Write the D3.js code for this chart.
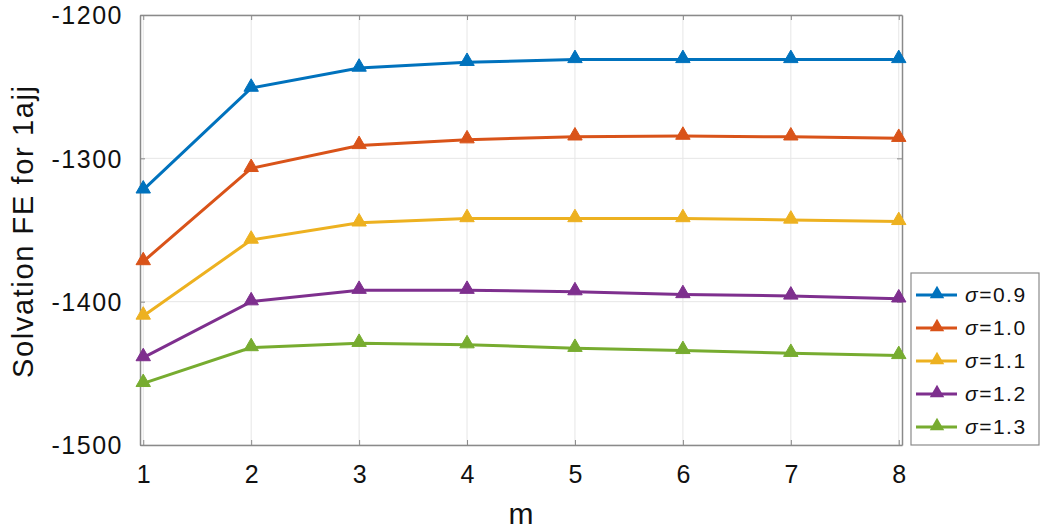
<!DOCTYPE html>
<html><head><meta charset="utf-8">
<script src="https://cdn.jsdelivr.net/npm/d3@7"></script>
<style>body{margin:0;background:#fff;} text{font-family:"Liberation Sans",Arial,Helvetica,sans-serif;}</style>
</head><body><svg id="c" width="1050" height="532"></svg>
<script>
const mValues = [1,2,3,4,5,6,7,8];
const seriesNames = ["σ=0.9","σ=1.0","σ=1.1","σ=1.2","σ=1.3"];
const sigma09 = [-1322,-1251,-1237,-1233,-1231,-1231,-1231,-1231];
const sigma10 = [-1372,-1307,-1291,-1287,-1285,-1284.5,-1285,-1286];
const sigma11 = [-1410,-1357,-1345,-1342,-1342,-1342,-1343,-1344];
const sigma12 = [-1439,-1400,-1392,-1392,-1393,-1395,-1396,-1398];
const sigma13 = [-1457,-1432,-1429,-1430,-1432.5,-1434,-1436,-1437.5];
const yTicks = [-1500,-1400,-1300,-1200];
const xTicks = [1,2,3,4,5,6,7,8];
const colors = ["#0072BD","#D95319","#EDB120","#7E2F8E","#77AC30"];
const allSeries = [sigma09,sigma10,sigma11,sigma12,sigma13];

const svg = d3.select("#c");
const L=140, R=902, T=15, B=445;
const x = d3.scaleLinear().domain([0.97,8.03]).range([L,R]);
const y = d3.scaleLinear().domain([-1500,-1200]).range([B,T]);

// grid
svg.append("g").selectAll("line").data(xTicks).join("line")
  .attr("x1",d=>x(d)).attr("x2",d=>x(d)).attr("y1",T).attr("y2",B)
  .attr("stroke","#e6e6e6").attr("stroke-width",1);
svg.append("g").selectAll("line").data(yTicks).join("line")
  .attr("x1",L).attr("x2",R).attr("y1",d=>y(d)).attr("y2",d=>y(d))
  .attr("stroke","#e6e6e6").attr("stroke-width",1);

// axes
const axCol="#8a8a8a";
const fmt = d=>String(d).replace("\u2212","-");
const bx = svg.append("g").attr("transform",`translate(0,${B})`).call(d3.axisBottom(x).tickValues(xTicks).tickSizeInner(-5).tickSizeOuter(0).tickPadding(20).tickFormat(fmt));
const tx = svg.append("g").attr("transform",`translate(0,${T})`).call(d3.axisTop(x).tickValues(xTicks).tickSizeInner(-5).tickSizeOuter(0).tickFormat(""));
const ly = svg.append("g").attr("transform",`translate(${L},0)`).call(d3.axisLeft(y).tickValues(yTicks).tickSizeInner(-5).tickSizeOuter(0).tickPadding(17).tickFormat(fmt));
const ry = svg.append("g").attr("transform",`translate(${R},0)`).call(d3.axisRight(y).tickValues(yTicks).tickSizeInner(-5).tickSizeOuter(0).tickFormat(""));
[bx,tx,ly,ry].forEach(g=>{
  g.selectAll("path").attr("stroke",axCol).attr("stroke-width",1.5);
  g.selectAll("line").attr("stroke",axCol);
  g.selectAll("text").attr("fill","#111").style("font-size","25px");
});
bx.selectAll("text").attr("dy","0.71em");
ly.selectAll("text").attr("dy","0.35em").style("letter-spacing","1.5px");

// axis labels
svg.append("text").attr("x",(L+R)/2).attr("y",524).attr("text-anchor","middle")
  .style("font-size","30px").attr("fill","#111").text("m");
svg.append("text").attr("transform",`translate(33,232) rotate(-90)`).attr("text-anchor","middle")
  .attr("textLength",292).style("font-size","29px").attr("fill","#111").text("Solvation FE for 1ajj");

// lines
const line = d3.line().x((d,i)=>x(mValues[i])).y(d=>y(d));
const tri = d3.symbol().type(d3.symbolTriangle).size(90);
allSeries.forEach((s,k)=>{
  svg.append("path").datum(s).attr("d",line).attr("fill","none")
    .attr("stroke",colors[k]).attr("stroke-width",3);
  svg.append("g").selectAll("path").data(s).join("path")
    .attr("d",tri).attr("transform",(d,i)=>`translate(${x(mValues[i])},${y(d)-1})`)
    .attr("fill",colors[k]).attr("stroke",colors[k]).attr("stroke-width",1);
});

// legend
const lg = svg.append("g");
lg.append("rect").attr("x",911).attr("y",273).attr("width",128).attr("height",172)
  .attr("fill","#fff").attr("stroke","#8a8a8a").attr("stroke-width",1.2);
seriesNames.forEach((n,k)=>{
  const yy = 295 + k*33;
  lg.append("line").attr("x1",916).attr("x2",957).attr("y1",yy).attr("y2",yy)
    .attr("stroke",colors[k]).attr("stroke-width",3);
  lg.append("path").attr("d",tri).attr("transform",`translate(937,${yy-1})`).attr("fill",colors[k]);
  lg.append("text").attr("x",965).attr("y",yy).attr("dy","0.35em").style("font-size","21px")
    .style("letter-spacing","1.5px").attr("fill","#111")
    .html(`<tspan font-style="italic">σ</tspan>${n.slice(1)}`);
});
</script></body></html>
